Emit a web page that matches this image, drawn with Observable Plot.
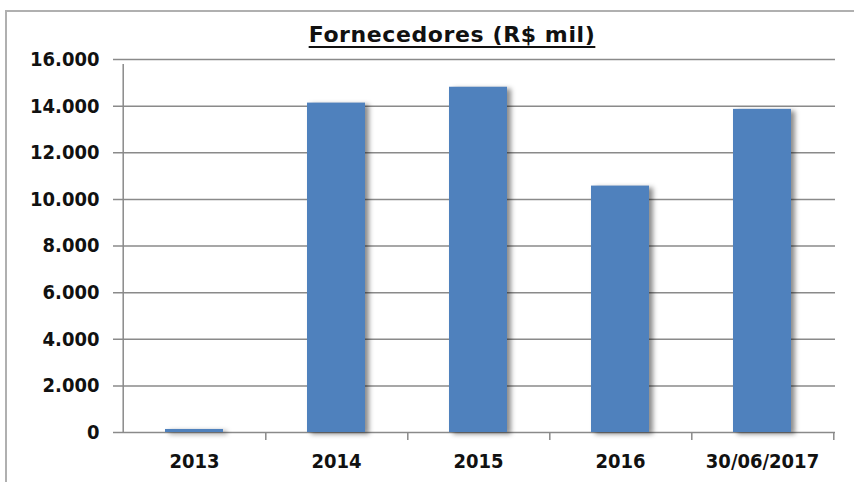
<!DOCTYPE html>
<html>
<head>
<meta charset="utf-8">
<script src="https://cdn.jsdelivr.net/npm/d3@7"></script>
<script src="https://cdn.jsdelivr.net/npm/@observablehq/plot@0.6"></script>
<style>
  html, body { margin: 0; padding: 0; background: #fff; }
  #wrap { position: relative; width: 854px; height: 482px; overflow: hidden; }
  #frame { position: absolute; left: 5px; top: 10px; width: 900px; height: 500px;
           border-left: 2px solid #b0b0b0; border-top: 2px solid #b0b0b0; }
  #title { position: absolute; left: 0; top: 22px; width: 904px; text-align: center;
           font-family: "DejaVu Sans", "Open Sans", sans-serif;
           font-weight: bold; font-size: 22px; letter-spacing: 0.6px; color: #111;
           text-decoration: underline; text-decoration-thickness: 2px;
           text-underline-offset: 4px; line-height: 26px; }
  #chart { position: absolute; left: 0; top: 50px; }
</style>
</head>
<body>
<div id="wrap">
  <div id="frame"></div>
  <div id="title">Fornecedores (R$ mil)</div>
  <div id="chart"></div>
</div>
<script>
const categories = ["2013", "2014", "2015", "2016", "30/06/2017"];
const values = [130, 14130, 14810, 10570, 13860];
const yTicks = [0, 2000, 4000, 6000, 8000, 10000, 12000, 14000, 16000];

const data = categories.map((c, i) => ({categoria: c, valor: values[i]}));
const ptBR = d3.formatLocale({decimal: ",", thousands: ".", grouping: [3], currency: ["R$", ""]});
const fmt = ptBR.format(",d");

const W = 854, ML = 122, MR = 19;
const step = (W - ML - MR) / categories.length;
const gray = "#8a8a8a";

const chart = Plot.plot({
  width: W,
  height: 432,
  marginTop: 9,
  marginBottom: 50,
  marginLeft: ML,
  marginRight: MR,
  style: {
    fontFamily: '"DejaVu Sans Condensed", "Liberation Sans Narrow", "Open Sans", sans-serif',
    fontSize: "20px",
    fontWeight: "bold",
    color: "#111",
    background: "transparent",
    overflow: "visible"
  },
  x: {domain: categories, paddingInner: 0.59, paddingOuter: 0.295, label: null, tickSize: 0, tickPadding: 21},
  y: {domain: [0, 16000], ticks: yTicks, tickFormat: fmt, label: null, tickSize: 0, tickPadding: 23},
  marks: [
    Plot.ruleY(yTicks, {stroke: gray, strokeWidth: 1.5, insetLeft: -9}),
    Plot.ruleX([categories[0]], {dx: -step / 2, y1: 0, y2: 16000, stroke: gray, strokeWidth: 1.5, insetBottom: -5}),
    Plot.ruleX(categories, {dx: step / 2, y1: 0, y2: 0, stroke: gray, strokeWidth: 1.5, insetBottom: -8}),
    Plot.barY(data, {x: "categoria", y: "valor", fill: "#000", fillOpacity: 0.45, dx: 4, dy: 2}),
    Plot.barY(data, {x: "categoria", y: "valor", fill: "#4f81bd"})
  ]
});

document.getElementById("chart").appendChild(chart);

const ns = "http://www.w3.org/2000/svg";
const defs = document.createElementNS(ns, "defs");
defs.innerHTML = '<filter id="shadowBlur" x="-50%" y="-10%" width="200%" height="120%"><feGaussianBlur stdDeviation="2.5"/></filter>';
chart.insertBefore(defs, chart.firstChild);
const barGroups = chart.querySelectorAll('g[aria-label="bar"]');
if (barGroups.length) barGroups[0].setAttribute("filter", "url(#shadowBlur)");
</script>
</body>
</html>
